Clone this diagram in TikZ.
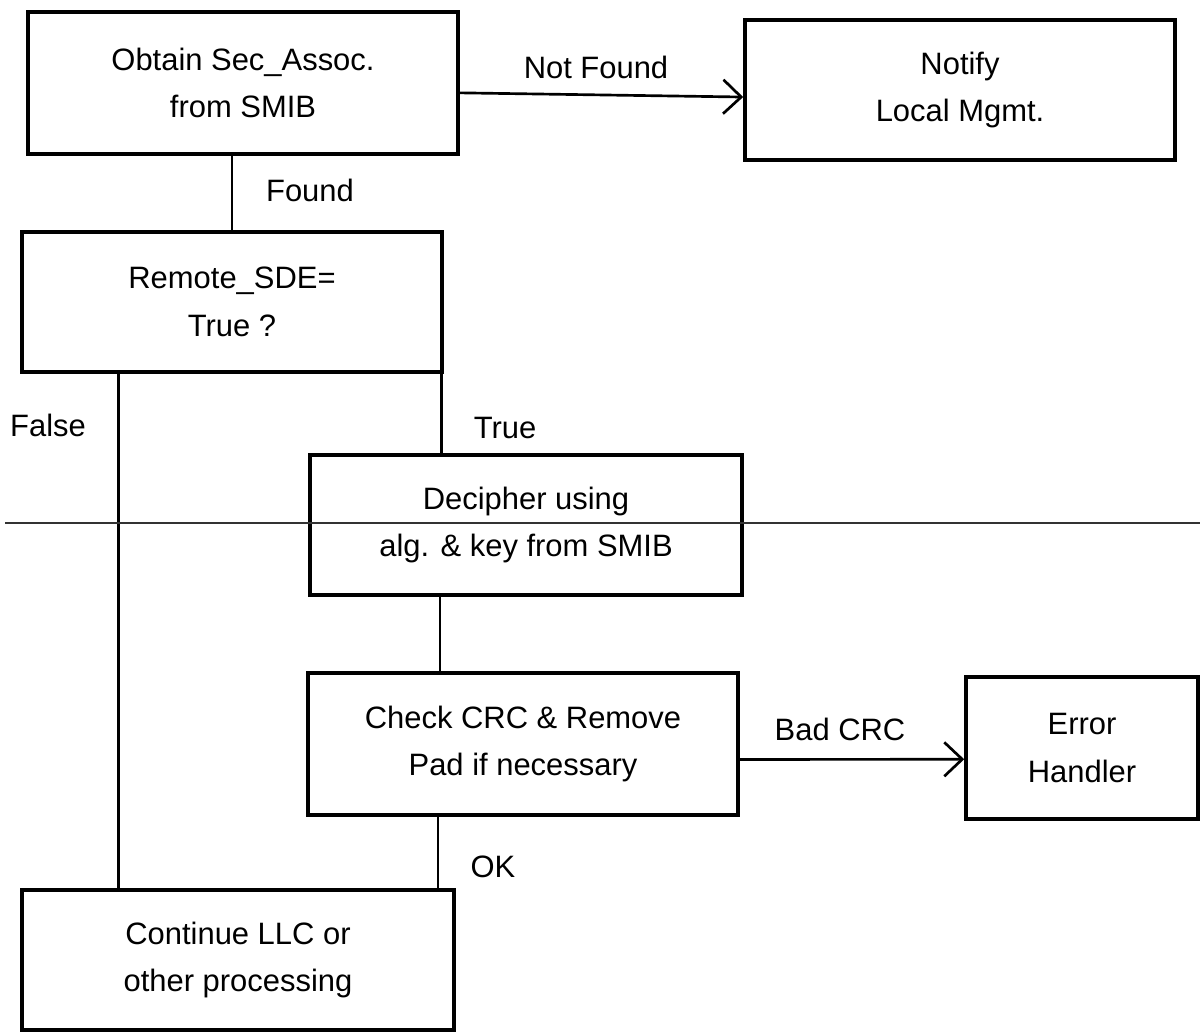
\documentclass[tikz,border=0pt]{standalone}
\usepackage{fontspec}
\setmainfont{Liberation Sans}
\usetikzlibrary{arrows.meta}
\begin{document}
\begin{tikzpicture}[x=0.025cm, y=-0.025cm,
        box/.style={draw, line width=2.5pt, align=center, font=\fontsize{22}{34}\selectfont},
        wire/.style={line width=1.9pt},
        flow/.style={wire, -{Straight Barb[length=0.45cm, width=0.85cm, line width=1.9pt]}},
        lbl/.style={font=\fontsize{22}{26}\selectfont}]
        \useasboundingbox (0,0) rectangle (1200,1032);

        % Draw the boxes of the flow
        \node[box, minimum width=10.75cm, minimum height=3.55cm] (obtain) at (243,83) {Obtain Sec\_Assoc.\\from SMIB};
        \node[box, minimum width=10.75cm, minimum height=3.5cm] (notify) at (960,90) {Notify\\Local Mgmt.};
        \node[box, minimum width=10.5cm, minimum height=3.5cm] (remote) at (232,302) {Remote\_SDE=\\True ?};
        \node[box, minimum width=10.8cm, minimum height=3.5cm] (decipher) at (526,525) {Decipher using\\alg. \& key from SMIB};
        \node[box, minimum width=10.75cm, minimum height=3.55cm] (check) at (523,744) {Check CRC \& Remove\\Pad if necessary};
        \node[box, minimum width=5.8cm, minimum height=3.55cm] (error) at (1082,748) {Error\\Handler};
        \node[box, minimum width=10.8cm, minimum height=3.5cm] (continue) at (238,960) {Continue LLC or\\other processing};

        % Add the connectors between the boxes
        \draw[flow] ([yshift=-7pt]obtain.east) -- ([yshift=-5pt]notify.west);
        \draw[wire] (remote.north) -- (remote.north |- obtain.south);
        \draw[wire] ([xshift=2.45cm]remote.south west) -- ([xshift=2.45cm]remote.south west |- continue.north);
        \draw[wire] ([xshift=-0.05cm]remote.south east) -- ([xshift=-0.05cm]remote.south east |- decipher.north);
        \draw[wire] ([xshift=-2.15cm]decipher.south) -- ([xshift=-2.15cm]decipher.south |- check.north);
        \draw[flow] ([yshift=-11pt]check.east) -- ([yshift=-8pt]error.west);
        \draw[wire] ([xshift=-2.125cm]check.south) -- ([xshift=-2.125cm]check.south |- continue.north);

        % Rule across the page
        \draw[line width=1.1pt, black!80] (5,523) -- (1200,523);

        % Add labels on the connectors
        \node[lbl] (notfound) at (596,67) {Not Found};
        \node[lbl] (found) at (310,190) {Found};
        \node[lbl] (false) at (48,425) {False};
        \node[lbl] (true) at (505,428) {True};
        \node[lbl] (badcrc) at (840,729) {Bad CRC};
        \node[lbl] (ok) at (493,867) {OK};

\end{tikzpicture}
\end{document}
